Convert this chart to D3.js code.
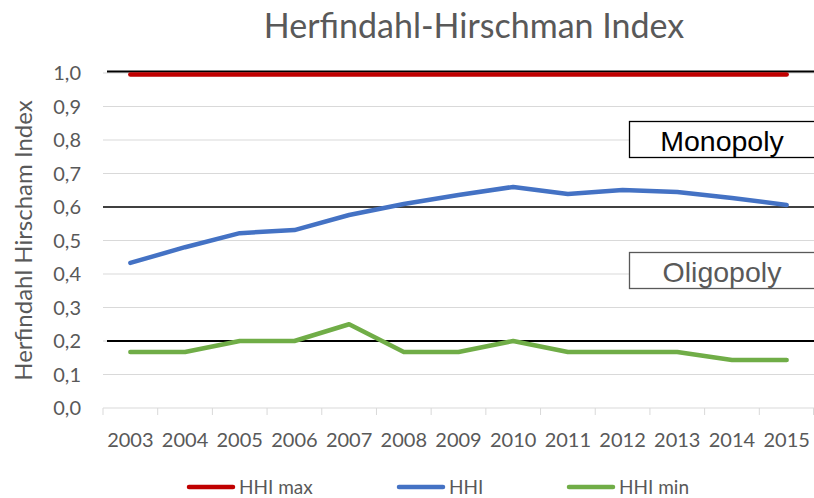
<!DOCTYPE html>
<html>
<head>
<meta charset="utf-8">
<script src="https://cdn.jsdelivr.net/npm/d3@7"></script>
<style>
  body { margin: 0; background: #fff; }
  svg { font-family: Lato, "Open Sans", sans-serif; }
</style>
</head>
<body>
<svg id="chart" width="814" height="498"></svg>
<script>
const years = ["2003","2004","2005","2006","2007","2008","2009","2010","2011","2012","2013","2014","2015"];
const hhiMax = [1,1,1,1,1,1,1,1,1,1,1,1,1];
const hhi = [0.433,0.48,0.522,0.531,0.576,0.609,0.636,0.66,0.639,0.651,0.645,0.627,0.606];
const hhiMin = [0.167,0.167,0.2,0.2,0.25,0.167,0.167,0.2,0.167,0.167,0.167,0.143,0.143];
const yTicks = [0,0.1,0.2,0.3,0.4,0.5,0.6,0.7,0.8,0.9,1.0];
const thresholds = [1.0, 0.6, 0.2];
const zones = [{label: "Monopoly", top: 0.857, dark: true}, {label: "Oligopoly", top: 0.466, dark: false}];

const series = [
  {name: "HHI max", values: hhiMax, color: "#c00000"},
  {name: "HHI", values: hhi, color: "#4472c4"},
  {name: "HHI min", values: hhiMin, color: "#70ad47"}
];

const svg = d3.select("#chart");
const W = 814, H = 498;
const left = 103;

const x = d3.scaleBand().domain(years).range([left, W]);
const y = d3.scaleLinear().domain([0, 1]).range([408, 73]);

// gridlines
svg.append("g").selectAll("line").data(yTicks.slice(1)).join("line")
  .attr("x1", left).attr("x2", W)
  .attr("y1", d => y(d)).attr("y2", d => y(d))
  .attr("stroke", "#d9d9d9").attr("stroke-width", 1);

// y tick labels
svg.append("g").selectAll("text").data(yTicks).join("text")
  .attr("x", 81).attr("y", d => y(d)).attr("dy", "0.36em")
  .attr("text-anchor", "end").attr("font-size", 20).attr("fill", "#595959")
  .text(d => d.toFixed(1).replace(".", ","));

// x axis baseline and tick marks at band edges
svg.append("line").attr("x1", left).attr("x2", W).attr("y1", y(0)).attr("y2", y(0))
  .attr("stroke", "#d9d9d9");
const edges = years.map(d => x(d)).concat([x(years[years.length - 1]) + x.bandwidth()]);
svg.append("g").selectAll("line").data(edges).join("line")
  .attr("x1", d => Math.min(d, W - 0.5)).attr("x2", d => Math.min(d, W - 0.5))
  .attr("y1", y(0)).attr("y2", y(0) + 7)
  .attr("stroke", "#d9d9d9");
svg.append("g").selectAll("text").data(years).join("text")
  .attr("x", d => x(d) + x.bandwidth() / 2).attr("y", y(0) + 39)
  .attr("text-anchor", "middle").attr("font-size", 20).attr("fill", "#595959")
  .text(d => d);

// threshold lines
svg.append("g").selectAll("line").data(thresholds).join("line")
  .attr("x1", d => d === 0.6 ? left : left + 4).attr("x2", W)
  .attr("y1", d => y(d) - (d === 1 ? 1.5 : 0)).attr("y2", d => y(d) - (d === 1 ? 1.5 : 0))
  .attr("stroke", d => d === 0.6 ? "#404040" : "#000").attr("stroke-width", 2);

// zone boxes
zones.forEach(z => {
  const g = svg.append("g");
  const top = Math.round(y(z.top)) + 0.5;
  g.append("rect")
    .attr("x", 629.5).attr("y", top)
    .attr("width", 200).attr("height", 36)
    .attr("fill", "#fff").attr("stroke", z.dark ? "#000" : "#595959").attr("stroke-width", 1.3);
  g.append("text")
    .attr("x", 722).attr("y", top + 29)
    .attr("text-anchor", "middle").attr("font-size", 28.5)
    .attr("font-family", "'Liberation Sans', Arial, sans-serif")
    .attr("fill", z.dark ? "#000" : "#595959")
    .text(z.label);
});

// series lines
const line = d3.line()
  .x((d, i) => x(years[i]) + x.bandwidth() / 2)
  .y(d => y(d));

series.forEach(s => {
  svg.append("path")
    .datum(s.values)
    .attr("fill", "none")
    .attr("stroke", s.color)
    .attr("stroke-width", 4.5)
    .attr("stroke-linecap", "round")
    .attr("stroke-linejoin", "round")
    .attr("transform", s.name === "HHI max" ? "translate(0,1.5)" : null)
    .attr("d", line);
});

// title
svg.append("text")
  .attr("x", 474).attr("y", 38)
  .attr("text-anchor", "middle").attr("font-size", 34).attr("fill", "#595959")
  .text("Herfindahl-Hirschman Index");

// y axis title
svg.append("text")
  .attr("transform", `translate(32,${(y(0) + y(1)) / 2}) rotate(-90)`)
  .attr("text-anchor", "middle").attr("font-size", 24).attr("fill", "#595959")
  .text("Herfindahl Hirscham Index");

// legend
const legendX = [187, 397, 567];
const lg = svg.append("g").selectAll("g").data(series).join("g")
  .attr("transform", (d, i) => `translate(${legendX[i]},487)`);
lg.append("line").attr("x1", 2).attr("x2", 46).attr("y1", 0).attr("y2", 0)
  .attr("stroke", d => d.color).attr("stroke-width", 4.5).attr("stroke-linecap", "round");
lg.append("text").attr("x", 52).attr("y", 0).attr("dy", "0.36em")
  .attr("font-size", 19).attr("fill", "#595959").text(d => d.name);
</script>
</body>
</html>
